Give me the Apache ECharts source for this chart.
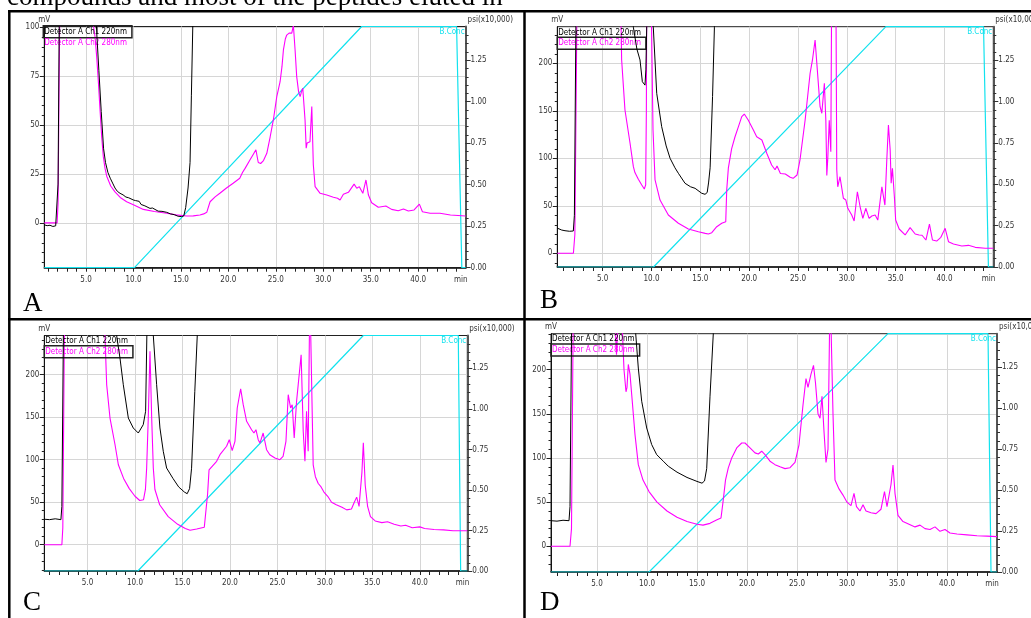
<!DOCTYPE html>
<html><head><meta charset="utf-8">
<script src="https://cdn.jsdelivr.net/npm/echarts@6/dist/echarts.min.js"></script>
<style>html,body{margin:0;padding:0;background:#fff;}#c{width:1031px;height:618px;}</style>
</head><body><div id="c"></div>
<script>
// ---------- tick labels ----------
const timeTicks = [1,2,3,4,5,6,7,8,9,10,11,12,13,14,15,16,17,18,19,20,21,22,23,24,25,26,27,28,29,30,31,32,33,34,35,36,37,38,39,40,41,42,43,44];
const timeLabels = [5,10,15,20,25,30,35,40];
const psiTicks = [0,0.05,0.1,0.15,0.2,0.25,0.3,0.35,0.4,0.45,0.5,0.55,0.6,0.65,0.7,0.75,0.8,0.85,0.9,0.95,1.0,1.05,1.1,1.15,1.2,1.25,1.3,1.35,1.4];
const psiLabels = [0,0.25,0.5,0.75,1.0,1.25];
const mvTicksA = [-20,-15,-10,-5,0,5,10,15,20,25,30,35,40,45,50,55,60,65,70,75,80,85,90,95,100];
const mvLabelsA = [0,25,50,75,100];
const mvTicksBCD = [-30,-20,-10,0,10,20,30,40,50,60,70,80,90,100,110,120,130,140,150,160,170,180,190,200,210,220,230,240];
const mvLabelsBCD = [0,50,100,150,200];
const seriesNames = ['Detector A Ch1 220nm','Detector A Ch2 280nm','B.Conc'];

// ---------- panel A ----------
const ch1A = [[0.6,-0.8],[0.9,-1.2],[1.2,-1.0],[1.5,-1.6],[1.8,-1.3],[1.95,-1.0],[2.05,20],[2.2,120],[2.4,500],[5.8,500],[6.0,110],[6.15,95],[6.35,78],[6.6,57],[6.85,38],[7.05,31],[7.3,26],[7.55,23],[7.8,20.5],[8.05,18],[8.2,17.4],[8.3,16.3],[8.45,16.9],[8.58,15.3],[8.9,14.5],[9.05,14.9],[9.2,13.4],[9.5,13.0],[9.7,12.0],[9.98,11.9],[10.2,11.6],[10.4,10.8],[10.6,11.2],[10.8,9.6],[11.2,8.9],[11.4,9.3],[11.74,7.6],[12.0,7.8],[12.2,7.0],[12.6,6.2],[12.8,6.8],[13.0,6.1],[13.2,5.4],[13.5,5.6],[13.9,4.8],[14.1,5.2],[14.3,4.4],[14.7,3.6],[14.85,4.2],[15.08,3.4],[15.3,3.8],[15.5,8],[15.75,18],[15.96,31],[16.1,65],[16.25,101],[16.4,500],[45,500]];
const ch2A = [[0.6,0.2],[1.95,0.2],[2.05,10],[2.25,120],[2.4,500],[5.6,500],[5.77,101],[5.95,95],[6.12,85],[6.3,72],[6.47,58],[6.65,44],[6.82,34],[7.0,28],[7.18,24],[7.6,19],[8.05,16],[8.6,13.2],[9.28,11],[10.1,9.2],[11.04,7.1],[12.2,6.0],[13.5,5.1],[14.5,4.3],[15.6,3.7],[16.3,3.8],[17.0,4.2],[17.4,4.8],[17.72,5.6],[18.07,11],[18.6,13.5],[19.1,15.3],[19.8,18],[20.5,20.4],[21.2,23],[21.5,26],[21.76,28],[22.3,32.5],[22.6,35],[22.9,37.5],[23.15,31],[23.4,30.5],[23.7,32],[24.05,35.7],[24.4,44],[24.74,52.7],[25.1,64.6],[25.45,72.2],[25.65,80],[25.8,88.4],[26.0,94],[26.15,96],[26.4,97],[26.68,97],[26.85,101],[27.03,88.4],[27.2,74.8],[27.4,67],[27.56,64.6],[27.7,67],[27.84,68.9],[28.08,52.7],[28.2,38.3],[28.3,41],[28.43,41.6],[28.6,41.6],[28.79,59.5],[28.95,30],[29.14,18.7],[29.67,15.3],[30.37,14.4],[31.07,13.3],[31.5,12.8],[31.77,11.9],[32.12,14.8],[32.65,15.8],[33.25,20],[33.53,17.9],[33.8,18.7],[34.17,15.3],[34.5,22.1],[34.76,14.4],[35.1,10.5],[35.8,8.2],[36.6,8.8],[37.2,7.1],[37.9,6.4],[38.45,7.3],[38.97,6.3],[39.57,6.8],[40.13,9.8],[40.45,5.9],[41.26,5.1],[42.3,5.1],[43.4,4.2],[45,3.7]];
const concA = [[0.6,0],[10.1,0],[34.05,100],[44.05,100],[44.6,0],[45,0]];

// ---------- panel B ----------
const ch1B = [[0.35,26.5],[0.8,24.5],[1.14,23.8],[1.6,23.2],[1.99,23.5],[2.1,40],[2.3,300],[8.0,300],[8.14,238],[8.5,215],[8.82,203.5],[9.06,180.6],[9.33,177],[9.42,193],[9.52,245],[9.6,400],[10.0,400],[10.18,238],[10.53,168.4],[11.04,133.3],[11.5,113],[11.9,100],[12.4,90],[12.75,84.2],[13.43,73.7],[14.0,70],[14.46,68.4],[15.14,63.2],[15.48,62.1],[15.7,64],[15.85,75],[16.0,90],[16.25,165],[16.44,238],[16.6,400],[45,400]];
const ch2B = [[0.35,0],[2.0,0],[2.15,20],[2.4,300],[6.7,300],[6.88,240],[6.94,203.5],[7.28,150.8],[7.8,115.8],[8.14,91.2],[8.3,85],[8.65,78],[9.0,71.9],[9.26,67.7],[9.4,72],[9.47,150],[9.52,300],[9.9,300],[10.0,240],[10.15,130],[10.36,77.2],[10.87,56.1],[11.72,40.3],[12.75,31.6],[13.77,25.6],[14.8,22.7],[15.5,21],[15.82,20.3],[16.17,21.7],[16.68,28],[17.19,31.6],[17.6,33.3],[17.7,66.6],[17.87,90],[18.2,110],[18.55,122.7],[18.9,133.3],[19.24,143.8],[19.5,146.6],[19.9,140.3],[20.43,129.8],[20.77,122.7],[21.3,119.3],[21.8,105.3],[22.3,93],[22.65,88],[22.85,92],[23.0,90],[23.2,84],[23.7,83.5],[24.2,80],[24.5,78.9],[24.9,82.4],[25.2,98],[25.73,140.3],[26.24,189.5],[26.48,203.5],[26.75,224.5],[27.03,185.9],[27.26,154.3],[27.44,147.4],[27.7,179],[27.85,140],[27.95,82],[28.05,100],[28.2,140],[28.36,107],[28.46,300],[28.87,300],[28.97,88],[29.07,70],[29.3,80.6],[29.65,57.9],[29.9,56.1],[30.1,47.4],[30.5,40.3],[30.75,34],[31.08,64.8],[31.36,49],[31.64,36.8],[31.94,47.4],[32.28,36.8],[32.56,39.3],[32.9,40.3],[33.17,35],[33.59,70],[33.9,50.8],[34.1,100],[34.26,135],[34.44,108.7],[34.54,73.7],[34.67,89.5],[34.88,57.9],[35.0,35],[35.36,25.6],[35.97,19.3],[36.48,27],[37.0,20.3],[37.4,19.3],[37.7,19],[38.1,14],[38.46,30.8],[38.77,14],[39.2,12.9],[39.63,16.8],[39.8,15],[40.07,26.3],[40.41,12.2],[40.92,9.8],[41.78,7.7],[42.46,8.4],[43.15,6.3],[44.17,5.3],[45,5.3]];
const concB = [[0.35,0],[10.2,0],[34.0,100],[44.0,100],[44.5,0],[45,0]];

// ---------- panel C ----------
const ch1C = [[0.45,30],[1.0,29.5],[1.6,30.5],[2.2,29.5],[2.3,45],[2.5,300],[7.9,300],[8.07,246],[8.42,219.6],[8.77,188.2],[9.3,149],[9.82,137.3],[10.35,131.4],[10.87,141.2],[11.12,157],[11.25,246],[11.3,300],[11.85,300],[11.93,246],[12.28,188.2],[12.63,137.3],[12.98,109.9],[13.33,90.2],[14.0,78],[14.6,68],[15.2,62],[15.5,60],[15.75,66],[15.96,90],[16.3,180],[16.56,246],[16.7,300],[45,300]];
const ch2C = [[0.45,0],[2.3,0],[2.4,20],[2.6,300],[6.7,300],[6.84,246],[7.02,188.2],[7.37,149],[7.9,117.6],[8.25,94.1],[8.8,78],[9.4,66],[10.0,57],[10.5,52],[10.9,53],[11.1,65],[11.23,90.2],[11.4,149],[11.58,227.5],[11.76,149],[11.93,90.2],[12.1,65],[12.6,47],[13.5,33],[14.5,24],[15.3,19],[15.8,17],[16.5,18.5],[17.3,20.5],[17.5,22],[17.65,60],[17.8,88],[18.6,98.1],[18.95,105.9],[19.65,115.8],[19.93,123.5],[20.24,110.6],[20.53,121.6],[20.77,160.8],[21.13,183.5],[21.4,164.7],[21.76,145.2],[22.28,135.3],[22.53,131.4],[22.74,135.3],[22.98,123.5],[23.16,119.6],[23.5,131.4],[23.7,129.4],[23.86,111.8],[24.2,105.9],[24.74,102],[25.26,100],[25.6,104],[25.9,121.6],[26.14,176.5],[26.39,160.8],[26.56,164.7],[26.77,125.5],[27.02,168.7],[27.19,188.2],[27.37,190.2],[27.5,223.5],[27.72,133.4],[27.9,98.1],[28.07,157],[28.24,110],[28.42,300],[28.6,300],[28.77,94],[29.0,80],[29.3,72],[29.6,68],[29.9,62],[30.3,57],[30.7,50],[31.2,47],[31.8,44],[32.3,41],[32.8,42],[33.1,50],[33.35,56],[33.6,45],[33.9,85],[34.05,120],[34.25,70],[34.5,45],[34.8,33],[35.3,28],[36.0,26],[36.6,27],[37.3,24],[38.0,22],[38.5,23],[39.2,20],[40.0,21],[40.5,19],[41.5,18],[42.5,17.5],[43.5,16.5],[45,16.5]];
const concC = [[0.45,0],[10.3,0],[34.05,100],[44.05,100],[44.3,0],[45,0]];

// ---------- panel D ----------
const ch1D = [[0.4,29],[1.0,28.5],[1.6,29.5],[2.2,29],[2.3,45],[2.5,300],[8.7,300],[8.87,241],[9.13,201.9],[9.47,164.3],[9.97,134],[10.47,115.2],[10.97,103.8],[11.63,96.4],[12.13,90.7],[13.0,84],[14.0,78],[15.0,73.5],[15.5,71.5],[15.75,74],[15.97,88],[16.3,170],[16.63,241],[16.8,300],[45,300]];
const ch2D = [[0.4,0],[2.3,0],[2.45,20],[2.65,300],[6.75,300],[6.85,241],[6.95,217],[7.05,241],[7.1,300],[7.45,300],[7.55,241],[7.7,200],[7.9,175],[8.0,180],[8.13,206],[8.3,195],[8.47,172],[8.8,126.5],[9.13,92.5],[9.6,75],[10.2,62],[11.0,50],[12.0,40],[13.0,33],[14.0,28],[15.0,25],[15.6,24],[16.3,26],[17.0,30],[17.4,32],[17.6,50],[17.85,75],[18.13,88.8],[18.47,100],[18.97,111.4],[19.47,117],[19.8,117],[20.3,111.4],[20.8,105.8],[21.13,104.6],[21.47,107.7],[21.8,103.8],[22.3,96.4],[22.8,92.5],[23.3,90],[23.8,88],[24.3,89],[24.8,95],[25.2,115],[25.6,160],[25.9,190],[26.1,180],[26.4,195],[26.65,205],[26.85,185],[27.1,150],[27.3,145],[27.5,170],[27.7,130],[27.9,95],[28.1,110],[28.25,241],[28.3,300],[28.5,300],[28.6,150],[28.8,75],[29.2,65],[29.6,58],[30.0,50],[30.4,46],[30.7,60],[30.95,45],[31.3,40],[31.6,47],[31.9,40],[32.4,38],[32.9,37],[33.4,42],[33.75,62],[34.0,45],[34.4,70],[34.6,92],[34.8,60],[35.1,35],[35.6,28],[36.2,25],[36.8,22],[37.3,24],[37.8,20],[38.3,19],[38.8,22],[39.3,17],[39.8,19],[40.3,15],[41.0,14],[42.0,13],[43.0,12],[44.0,11.5],[45,11]];
const concD = [[0.4,0],[10.2,0],[34.1,100],[44.1,100],[44.4,0],[45,0]];

// ---------- layout / style ----------
const FONT = "'Liberation Sans Narrow','DejaVu Sans Condensed','Arial Narrow','Liberation Sans',sans-serif";
const SERIF = "'Liberation Serif','Times New Roman',serif";
const BLACK = '#000', MAGENTA = '#ff00ff', CYAN = '#12e2ee', GRID = '#d6d6d6';

const panels = [
  {grid:{left:44.3,top:26.5,width:421.3,height:241.2}, xMin:0.6, yMin:-22.64, yMax:100.36, mvTicks:mvTicksA, mvLabels:mvLabelsA, ch1:ch1A, ch2:ch2A, conc:concA, boxed:0, leg:{x:43.3,t1:25.7,t2:37.3}},
  {grid:{left:557.3,top:26.7,width:436,height:240.3}, xMin:0.35, yMin:-14.4, yMax:238.5, mvTicks:mvTicksBCD, mvLabels:mvLabelsBCD, ch1:ch1B, ch2:ch2B, conc:concB, boxed:1, leg:{x:557.3,t1:26.7,t2:37.3}},
  {grid:{left:44.3,top:335.5,width:423,height:235.5}, xMin:0.45, yMin:-30.9, yMax:246.1, mvTicks:mvTicksBCD, mvLabels:mvLabelsBCD, ch1:ch1C, ch2:ch2C, conc:concC, boxed:1, leg:{x:44.3,t1:334.7,t2:345.7}},
  {grid:{left:551,top:333.7,width:446,height:238.3}, xMin:0.4, yMin:-29.1, yMax:240.8, mvTicks:mvTicksBCD, mvLabels:mvLabelsBCD, ch1:ch1D, ch2:ch2D, conc:concD, boxed:1, leg:{x:551,t1:332.7,t2:344}}
];
const PSI_MAX = 1.453;
const lbl = {fontSize:8, color:'#333', fontFamily:FONT};

const grids=[], xAxes=[], yAxes=[], series=[], legends=[], gfx=[];
panels.forEach((p,k)=>{
  grids.push(Object.assign({show:true, borderColor:'#222', borderWidth:1, outerBoundsMode:'none', containLabel:false}, p.grid));
  // x: minute ticks + axis line
  xAxes.push({type:'value', gridIndex:k, min:p.xMin, max:45, position:'bottom',
    axisLine:{show:true,onZero:false,lineStyle:{color:'#111',width:1.6}},
    axisTick:{show:true,customValues:timeTicks,length:4,lineStyle:{color:'#222',width:1}},
    axisLabel:{show:false}, splitLine:{show:false}});
  // x: labels + grid lines
  xAxes.push({type:'value', gridIndex:k, min:p.xMin, max:45, position:'bottom',
    axisLine:{show:false,onZero:false},
    axisTick:{show:false,customValues:timeLabels},
    axisLabel:Object.assign({show:true,customValues:timeLabels.concat([44.5]),margin:8,
      formatter:v=> (Math.abs(v-44.5)<1e-6 ? 'min' : v.toFixed(1))}, lbl),
    splitLine:{show:true,lineStyle:{color:GRID,width:1}}});
  // y left: minor ticks + line + name
  yAxes.push({type:'value', gridIndex:k, position:'left', min:p.yMin, max:p.yMax,
    name:'mV', nameLocation:'end', nameGap:3, nameTextStyle:Object.assign({align:'center'}, lbl),
    axisLine:{show:true,onZero:false,lineStyle:{color:'#111',width:1}},
    axisTick:{show:true,customValues:p.mvTicks,length:2.5,lineStyle:{color:'#222'}},
    axisLabel:{show:false}, splitLine:{show:false}});
  // y left: labels + major ticks + grid
  yAxes.push({type:'value', gridIndex:k, position:'left', min:p.yMin, max:p.yMax,
    axisLine:{show:false,onZero:false},
    axisTick:{show:true,customValues:p.mvLabels,length:4.5,lineStyle:{color:'#222'}},
    axisLabel:Object.assign({show:true,customValues:p.mvLabels,margin:5}, lbl),
    splitLine:{show:true,lineStyle:{color:GRID,width:1}}});
  // y right: psi minor ticks + line + name
  yAxes.push({type:'value', gridIndex:k, position:'right', min:0, max:PSI_MAX,
    name:'psi(x10,000)', nameLocation:'end', nameGap:3, nameTextStyle:Object.assign({align:'left',padding:[0,0,0,2]}, lbl),
    axisLine:{show:true,onZero:false,lineStyle:{color:'#555',width:2}},
    axisTick:{show:true,customValues:psiTicks,length:3,lineStyle:{color:'#333'}},
    axisLabel:{show:false}, splitLine:{show:false}});
  // y right: psi labels
  yAxes.push({type:'value', gridIndex:k, position:'right', min:0, max:PSI_MAX,
    axisLine:{show:false,onZero:false},
    axisTick:{show:true,customValues:psiLabels,length:5,lineStyle:{color:'#333'}},
    axisLabel:Object.assign({show:true,customValues:psiLabels,margin:5,formatter:v=>v.toFixed(2)}, lbl),
    splitLine:{show:false}});
  // hidden %B axis
  yAxes.push({type:'value', gridIndex:k, show:false, min:0, max:100});
  const xi = 2*k, yi = 5*k;
  series.push({type:'line', name:seriesNames[2], xAxisIndex:xi, yAxisIndex:yi+4, data:p.conc, symbol:'none', lineStyle:{color:CYAN,width:1.2}, itemStyle:{color:CYAN}, z:2});
  series.push({type:'line', name:seriesNames[1], xAxisIndex:xi, yAxisIndex:yi+1, data:p.ch2, symbol:'none', lineStyle:{color:MAGENTA,width:1.1}, itemStyle:{color:MAGENTA}, z:3});
  series.push({type:'line', name:seriesNames[0], xAxisIndex:xi, yAxisIndex:yi+1, data:p.ch1, symbol:'none', lineStyle:{color:BLACK,width:1}, itemStyle:{color:BLACK}, z:4});
  const legBase = {orient:'vertical', align:'right', icon:'none', itemWidth:0, itemHeight:8, itemGap:0,
    padding:[2,0,2,1], selectedMode:false, textStyle:{fontSize:8, fontFamily:FONT}};
  legends.push(Object.assign({}, legBase, {left:p.leg.x, top:p.leg.t1,
    data:[{name:seriesNames[0], textStyle:{color:'#000'}}],
    borderColor: p.boxed===0 ? '#222' : 'transparent', borderWidth: p.boxed===0 ? 1.5 : 0}));
  legends.push(Object.assign({}, legBase, {left:p.leg.x, top:p.leg.t2,
    data:[{name:seriesNames[1], textStyle:{color:MAGENTA}}],
    borderColor: p.boxed===1 ? '#222' : 'transparent', borderWidth: p.boxed===1 ? 1.5 : 0}));
  // B.Conc label
  gfx.push({type:'text', style:{text:'B.Conc', x:p.grid.left+p.grid.width-1, y:p.grid.top+5.5, fill:CYAN, font:"8px "+FONT, align:'right', verticalAlign:'middle'}, z:10});
});

// frame lines, caption, panel letters
const LW = 2.5;
gfx.push({type:'line', shape:{x1:8,y1:11.3,x2:1031,y2:11.3}, style:{stroke:'#000',lineWidth:LW}, z:20});
gfx.push({type:'line', shape:{x1:9.3,y1:10,x2:9.3,y2:618}, style:{stroke:'#000',lineWidth:LW}, z:20});
gfx.push({type:'line', shape:{x1:524.5,y1:10,x2:524.5,y2:618}, style:{stroke:'#000',lineWidth:LW}, z:20});
gfx.push({type:'line', shape:{x1:8,y1:319.3,x2:1031,y2:319.3}, style:{stroke:'#000',lineWidth:LW}, z:20});
gfx.push({type:'text', style:{text:'compounds and most of the peptides eluted in', x:7, y:-2.5, fill:'#000', font:"27px "+SERIF, align:'left', verticalAlign:'middle'}, z:20});
[['A',23,303.5],['B',540,300.5],['C',23,602.5],['D',540,602.5]].forEach(a=>{
  gfx.push({type:'text', style:{text:a[0], x:a[1], y:a[2], fill:'#000', font:"27px "+SERIF, align:'left', verticalAlign:'middle'}, z:20});
});

const chart = echarts.init(document.getElementById('c'), null, {renderer:'canvas'});
chart.setOption({
  backgroundColor:'#fff', animation:false,
  grid:grids, xAxis:xAxes, yAxis:yAxes, series:series, legend:legends,
  graphic:{elements:gfx}
});
</script></body></html>
